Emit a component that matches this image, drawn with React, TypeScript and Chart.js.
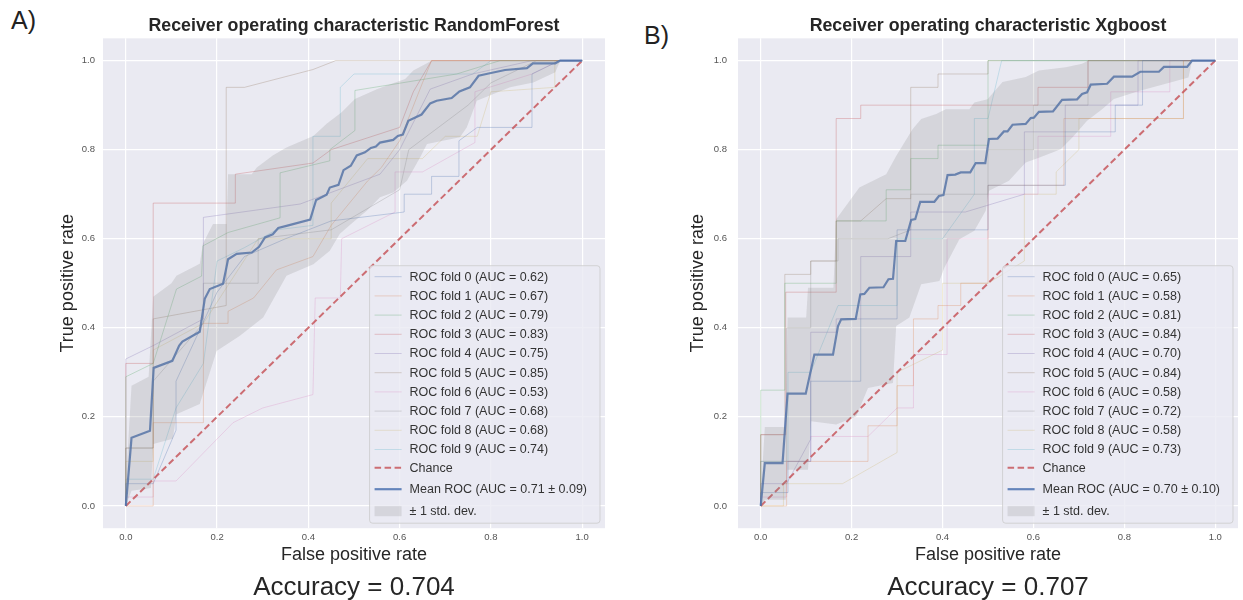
import React, { useEffect, useRef } from "react";
import { Chart, registerables } from "chart.js";

Chart.register(...registerables);

const FONT = "'Liberation Sans', Arial, sans-serif";

// ---------- shared ----------
const TICKS = [0, 0.2, 0.4, 0.6, 0.8, 1.0];
const AXIS_MIN = -0.05;
const AXIS_MAX = 1.05;
const X_LABEL = "False positive rate";
const Y_LABEL = "True positive rate";
const FOLD_COLORS = ["#4C72B0", "#DD8452", "#55A868", "#C44E52", "#8172B3", "#937860", "#DA8BC3", "#8C8C8C", "#CCB974", "#64B5CD"];
const CHANCE = [[0, 0], [1, 1]];

// ---------- A) RandomForest ----------
const RF_PANEL = "A)";
const RF_TITLE = "Receiver operating characteristic RandomForest";
const RF_ACCURACY = "Accuracy = 0.704";
const RF_FOLD_AUC = [0.62, 0.67, 0.79, 0.83, 0.75, 0.85, 0.53, 0.68, 0.68, 0.74];
const RF_MEAN_AUC = 0.71;
const RF_STD_AUC = 0.09;
const RF_MEAN = [[0, 0], [0.0125, 0.153], [0.053, 0.169], [0.061, 0.31], [0.102, 0.326], [0.117, 0.36], [0.124, 0.369], [0.162, 0.391], [0.173, 0.465], [0.184, 0.487], [0.213, 0.499], [0.219, 0.528], [0.224, 0.554], [0.243, 0.566], [0.276, 0.569], [0.292, 0.582], [0.305, 0.603], [0.322, 0.61], [0.334, 0.624], [0.352, 0.629], [0.404, 0.643], [0.417, 0.687], [0.44, 0.699], [0.447, 0.715], [0.466, 0.721], [0.477, 0.754], [0.493, 0.764], [0.506, 0.787], [0.524, 0.794], [0.537, 0.804], [0.548, 0.807], [0.557, 0.816], [0.586, 0.822], [0.596, 0.831], [0.607, 0.834], [0.619, 0.865], [0.648, 0.879], [0.667, 0.904], [0.681, 0.91], [0.714, 0.916], [0.731, 0.931], [0.754, 0.94], [0.773, 0.966], [0.795, 0.971], [0.831, 0.979], [0.879, 0.983], [0.892, 0.994], [0.941, 0.994], [0.952, 1], [1, 1]];
const RF_UPPER = [[0, 0.05], [0.0125, 0.27], [0.05, 0.29], [0.06, 0.47], [0.1, 0.5], [0.111, 0.517], [0.162, 0.544], [0.169, 0.589], [0.191, 0.633], [0.221, 0.633], [0.224, 0.745], [0.276, 0.745], [0.287, 0.76], [0.322, 0.787], [0.352, 0.805], [0.411, 0.831], [0.44, 0.858], [0.473, 0.884], [0.502, 0.914], [0.55, 0.936], [0.572, 0.944], [0.612, 0.959], [0.63, 0.978], [0.67, 1], [1, 1]];
const RF_LOWER = [[0, 0], [0.0125, 0.034], [0.055, 0.04], [0.06, 0.139], [0.103, 0.151], [0.111, 0.206], [0.162, 0.229], [0.199, 0.348], [0.25, 0.382], [0.301, 0.423], [0.352, 0.517], [0.411, 0.543], [0.447, 0.573], [0.469, 0.611], [0.498, 0.637], [0.528, 0.663], [0.557, 0.693], [0.586, 0.704], [0.616, 0.73], [0.645, 0.783], [0.66, 0.813], [0.732, 0.828], [0.747, 0.85], [0.769, 0.91], [0.842, 0.94], [0.893, 0.951], [0.941, 0.974], [0.952, 1], [1, 1]];
const RF_FOLD_0 = [[0, 0], [0, 0.05], [0.06, 0.05], [0.11, 0.17], [0.11, 0.28], [0.2, 0.48], [0.26, 0.56], [0.35, 0.6], [0.45, 0.64], [0.61, 0.66], [0.61, 0.7], [0.67, 0.7], [0.67, 0.74], [0.73, 0.74], [0.73, 0.82], [0.77, 0.85], [0.89, 0.85], [0.89, 0.97], [0.95, 1], [1, 1]];
const RF_FOLD_1 = [[0, 0], [0.06, 0], [0.06, 0.187], [0.17, 0.187], [0.17, 0.41], [0.224, 0.41], [0.224, 0.437], [0.28, 0.467], [0.33, 0.53], [0.41, 0.56], [0.45, 0.63], [0.53, 0.73], [0.56, 0.76], [0.6, 0.82], [0.65, 0.95], [0.67, 1], [1, 1]];
const RF_FOLD_2 = [[0, 0], [0, 0.29], [0.06, 0.32], [0.111, 0.487], [0.166, 0.516], [0.169, 0.584], [0.224, 0.614], [0.338, 0.647], [0.338, 0.748], [0.447, 0.775], [0.447, 0.8], [0.502, 0.843], [0.502, 0.933], [0.725, 0.97], [0.82, 1], [1, 1]];
const RF_FOLD_3 = [[0, 0], [0, 0.32], [0.06, 0.32], [0.06, 0.68], [0.24, 0.68], [0.24, 0.745], [0.41, 0.77], [0.45, 0.8], [0.6, 0.85], [0.63, 0.93], [0.67, 1], [1, 1]];
const RF_FOLD_4 = [[0, 0], [0, 0.33], [0.06, 0.36], [0.17, 0.42], [0.17, 0.648], [0.382, 0.678], [0.557, 0.745], [0.6, 0.8], [0.667, 0.936], [0.76, 0.97], [0.89, 1], [1, 1]];
const RF_FOLD_5 = [[0, 0], [0, 0.13], [0.06, 0.13], [0.06, 0.42], [0.22, 0.45], [0.22, 0.94], [0.26, 0.94], [0.41, 0.98], [0.46, 1], [1, 1]];
const RF_FOLD_6 = [[0, 0], [0, 0.02], [0.06, 0.02], [0.06, 0.056], [0.11, 0.056], [0.235, 0.187], [0.3, 0.22], [0.41, 0.25], [0.415, 0.467], [0.47, 0.467], [0.473, 0.6], [0.59, 0.66], [0.59, 0.75], [0.65, 0.75], [0.765, 0.816], [0.765, 0.93], [0.89, 0.97], [0.95, 1], [1, 1]];
const RF_FOLD_7 = [[0, 0], [0, 0.13], [0.06, 0.13], [0.06, 0.28], [0.17, 0.41], [0.17, 0.5], [0.29, 0.5], [0.29, 0.6], [0.45, 0.62], [0.6, 0.71], [0.62, 0.8], [0.75, 0.9], [0.8, 0.95], [0.9, 1], [1, 1]];
const RF_FOLD_8 = [[0, 0], [0, 0.1], [0.06, 0.1], [0.06, 0.35], [0.17, 0.41], [0.29, 0.6], [0.45, 0.6], [0.45, 0.68], [0.53, 0.78], [0.65, 0.78], [0.7, 0.83], [0.77, 0.83], [0.8, 0.93], [0.94, 0.94], [0.94, 1], [1, 1]];
const RF_FOLD_9 = [[0, 0], [0, 0.06], [0.06, 0.06], [0.11, 0.22], [0.17, 0.32], [0.2, 0.55], [0.26, 0.58], [0.33, 0.62], [0.41, 0.63], [0.41, 0.83], [0.47, 0.83], [0.47, 0.94], [0.5, 0.97], [0.76, 0.97], [0.8, 1], [1, 1]];
const RF_FOLDS = [RF_FOLD_0, RF_FOLD_1, RF_FOLD_2, RF_FOLD_3, RF_FOLD_4, RF_FOLD_5, RF_FOLD_6, RF_FOLD_7, RF_FOLD_8, RF_FOLD_9];

// ---------- B) Xgboost ----------
const XG_PANEL = "B)";
const XG_TITLE = "Receiver operating characteristic Xgboost";
const XG_ACCURACY = "Accuracy = 0.707";
const XG_FOLD_AUC = [0.65, 0.58, 0.81, 0.84, 0.70, 0.84, 0.58, 0.72, 0.58, 0.73];
const XG_MEAN_AUC = 0.70;
const XG_STD_AUC = 0.10;
const XG_MEAN = [[0, 0], [0.009, 0.096], [0.048, 0.096], [0.059, 0.252], [0.099, 0.252], [0.118, 0.34], [0.159, 0.34], [0.17, 0.404], [0.177, 0.419], [0.209, 0.42], [0.219, 0.475], [0.228, 0.476], [0.239, 0.49], [0.27, 0.491], [0.281, 0.509], [0.291, 0.51], [0.298, 0.595], [0.318, 0.595], [0.331, 0.642], [0.34, 0.644], [0.351, 0.683], [0.382, 0.683], [0.392, 0.696], [0.402, 0.698], [0.411, 0.743], [0.428, 0.744], [0.44, 0.749], [0.461, 0.749], [0.473, 0.77], [0.494, 0.77], [0.502, 0.824], [0.521, 0.825], [0.535, 0.841], [0.543, 0.841], [0.554, 0.856], [0.583, 0.858], [0.594, 0.871], [0.601, 0.872], [0.612, 0.885], [0.643, 0.886], [0.663, 0.912], [0.696, 0.913], [0.707, 0.925], [0.718, 0.929], [0.726, 0.946], [0.762, 0.948], [0.777, 0.964], [0.817, 0.964], [0.835, 0.975], [0.876, 0.975], [0.887, 0.986], [0.938, 0.986], [0.949, 1], [1, 1]];
const XG_UPPER = [[0, 0.02], [0.009, 0.177], [0.055, 0.177], [0.059, 0.423], [0.1, 0.423], [0.104, 0.49], [0.16, 0.49], [0.166, 0.644], [0.217, 0.715], [0.276, 0.745], [0.298, 0.786], [0.334, 0.846], [0.353, 0.869], [0.386, 0.88], [0.407, 0.891], [0.459, 0.891], [0.47, 0.906], [0.499, 0.913], [0.532, 0.952], [0.583, 0.963], [0.612, 0.978], [0.671, 0.985], [0.707, 0.993], [0.72, 1], [1, 1]];
const XG_LOWER = [[0, 0], [0.009, 0.014], [0.055, 0.014], [0.059, 0.081], [0.104, 0.081], [0.111, 0.19], [0.166, 0.183], [0.21, 0.201], [0.236, 0.265], [0.291, 0.276], [0.298, 0.404], [0.327, 0.423], [0.353, 0.498], [0.393, 0.505], [0.404, 0.535], [0.437, 0.599], [0.47, 0.618], [0.495, 0.663], [0.502, 0.708], [0.546, 0.73], [0.583, 0.771], [0.612, 0.782], [0.66, 0.801], [0.685, 0.827], [0.718, 0.865], [0.751, 0.891], [0.777, 0.914], [0.832, 0.932], [0.887, 0.947], [0.941, 0.962], [0.949, 1], [1, 1]];
const XG_FOLD_0 = [[0, 0], [0, 0.03], [0.06, 0.03], [0.06, 0.1], [0.11, 0.1], [0.11, 0.28], [0.22, 0.28], [0.22, 0.42], [0.3, 0.42], [0.3, 0.62], [0.5, 0.62], [0.5, 0.72], [0.67, 0.72], [0.67, 0.84], [0.78, 0.84], [0.78, 0.9], [0.84, 0.9], [0.84, 1], [1, 1]];
const XG_FOLD_1 = [[0, 0], [0.057, 0], [0.057, 0.1], [0.236, 0.1], [0.236, 0.18], [0.3, 0.18], [0.3, 0.27], [0.336, 0.27], [0.336, 0.42], [0.39, 0.42], [0.39, 0.45], [0.44, 0.45], [0.44, 0.5], [0.5, 0.5], [0.5, 0.72], [0.667, 0.72], [0.667, 0.87], [0.93, 0.87], [0.93, 1], [1, 1]];
const XG_FOLD_2 = [[0, 0], [0, 0.26], [0.053, 0.26], [0.053, 0.5], [0.166, 0.5], [0.166, 0.64], [0.276, 0.64], [0.276, 0.71], [0.33, 0.71], [0.33, 0.78], [0.39, 0.78], [0.39, 0.81], [0.5, 0.81], [0.5, 1], [1, 1]];
const XG_FOLD_3 = [[0, 0], [0, 0.16], [0.055, 0.16], [0.055, 0.48], [0.166, 0.48], [0.166, 0.87], [0.22, 0.87], [0.22, 0.9], [0.61, 0.9], [0.61, 0.94], [0.72, 0.94], [0.72, 1], [1, 1]];
const XG_FOLD_4 = [[0, 0], [0, 0.05], [0.057, 0.05], [0.11, 0.15], [0.11, 0.39], [0.166, 0.39], [0.166, 0.42], [0.22, 0.42], [0.22, 0.56], [0.33, 0.56], [0.33, 0.66], [0.45, 0.66], [0.58, 0.7], [0.58, 0.84], [0.67, 0.84], [0.67, 0.9], [0.83, 0.9], [0.83, 1], [1, 1]];
const XG_FOLD_5 = [[0, 0], [0, 0.16], [0.053, 0.16], [0.053, 0.52], [0.11, 0.52], [0.11, 0.55], [0.166, 0.55], [0.166, 0.64], [0.22, 0.64], [0.276, 0.69], [0.33, 0.69], [0.33, 0.94], [0.39, 0.94], [0.39, 0.97], [0.5, 0.97], [0.5, 1], [1, 1]];
const XG_FOLD_6 = [[0, 0], [0, 0.02], [0.057, 0.02], [0.057, 0.1], [0.11, 0.1], [0.11, 0.156], [0.236, 0.156], [0.3, 0.22], [0.336, 0.22], [0.336, 0.34], [0.41, 0.34], [0.41, 0.6], [0.5, 0.6], [0.5, 0.7], [0.61, 0.7], [0.61, 0.83], [0.77, 0.83], [0.77, 0.93], [0.9, 0.93], [0.9, 1], [1, 1]];
const XG_FOLD_7 = [[0, 0], [0, 0.1], [0.057, 0.1], [0.057, 0.4], [0.11, 0.4], [0.11, 0.55], [0.17, 0.55], [0.17, 0.6], [0.28, 0.6], [0.33, 0.62], [0.33, 0.7], [0.5, 0.7], [0.5, 0.8], [0.6, 0.8], [0.6, 0.9], [0.72, 0.9], [0.72, 1], [1, 1]];
const XG_FOLD_8 = [[0, 0], [0.05, 0], [0.05, 0.05], [0.18, 0.05], [0.3, 0.12], [0.3, 0.3], [0.4, 0.35], [0.4, 0.5], [0.5, 0.5], [0.58, 0.55], [0.58, 0.7], [0.65, 0.7], [0.65, 0.75], [0.7, 0.8], [0.7, 0.87], [0.93, 0.87], [0.93, 1], [1, 1]];
const XG_FOLD_9 = [[0, 0], [0, 0.1], [0.06, 0.1], [0.06, 0.3], [0.11, 0.3], [0.17, 0.45], [0.3, 0.45], [0.3, 0.6], [0.4, 0.6], [0.47, 0.7], [0.47, 0.87], [0.5, 0.87], [0.53, 1], [1, 1]];
const XG_FOLDS = [XG_FOLD_0, XG_FOLD_1, XG_FOLD_2, XG_FOLD_3, XG_FOLD_4, XG_FOLD_5, XG_FOLD_6, XG_FOLD_7, XG_FOLD_8, XG_FOLD_9];

// ---------- helpers ----------
function hexToRgba(hex: string, a: number) {
  const n = parseInt(hex.slice(1), 16);
  return `rgba(${(n >> 16) & 255},${(n >> 8) & 255},${n & 255},${a})`;
}
const MEAN_COLOR = hexToRgba("#4C72B0", 0.85);
const CHANCE_COLOR = hexToRgba("#C44E52", 0.8);
const BAND_COLOR = "rgba(128,128,128,0.2)";
const toXY = (pts: number[][]) => pts.map(([x, y]) => ({ x, y }));

const plotBackground = {
  id: "plotBackground",
  beforeDraw(chart: any) {
    const { ctx, chartArea } = chart;
    ctx.save();
    ctx.fillStyle = "#EAEAF2";
    ctx.fillRect(chartArea.left, chartArea.top, chartArea.right - chartArea.left, chartArea.bottom - chartArea.top);
    ctx.restore();
  },
};

const insideLegend = {
  id: "insideLegend",
  afterDraw(chart: any, _args: any, opts: any) {
    const { ctx, chartArea } = chart;
    const items = opts.items || [];
    const fs = opts.fontSize || 12.5;
    ctx.save();
    ctx.font = `${fs}px ${FONT}`;
    const maxW = Math.max(...items.map((it: any) => ctx.measureText(it.text).width));
    const boxW = 40 + maxW + 13;
    const boxH = 257.5;
    const right = chartArea.right - 5;
    const bottom = chartArea.bottom - 5;
    const left = right - boxW;
    const top = bottom - boxH;
    ctx.beginPath();
    if (ctx.roundRect) ctx.roundRect(left, top, boxW, boxH, 3);
    else ctx.rect(left, top, boxW, boxH);
    ctx.fillStyle = "rgba(234,234,242,0.8)";
    ctx.fill();
    ctx.strokeStyle = "rgba(204,204,204,0.8)";
    ctx.lineWidth = 1;
    ctx.stroke();
    const rowY = (i: number) => {
      if (i < 10) return top + 11 + 19.2 * i;
      if (i === 10) return top + 202;
      if (i === 11) return top + 223.5;
      return top + 245.5;
    };
    items.forEach((it: any, i: number) => {
      const y = rowY(i);
      const x0 = left + 5;
      const x1 = left + 32;
      if (it.kind === "patch") {
        ctx.fillStyle = it.color;
        ctx.fillRect(x0, y - 5, x1 - x0, 10);
      } else {
        ctx.beginPath();
        ctx.setLineDash(it.dash || []);
        ctx.strokeStyle = it.color;
        ctx.lineWidth = it.width;
        ctx.moveTo(x0, y);
        ctx.lineTo(x1, y);
        ctx.stroke();
        ctx.setLineDash([]);
      }
      ctx.fillStyle = "#333333";
      ctx.textBaseline = "middle";
      ctx.textAlign = "left";
      ctx.fillText(it.text, left + 40, y + 0.5);
    });
    ctx.restore();
  },
};

type PanelProps = {
  title: string;
  accuracy: string;
  foldAuc: number[];
  folds: number[][][];
  mean: number[][];
  upper: number[][];
  lower: number[][];
  meanAuc: number;
  stdAuc: number;
  left: number;
  width: number;
  padLeft: number;
  padRight: number;
  yWidth: number;
  yTickPad: number;
};

function RocPanel(p: PanelProps) {
  const ref = useRef<HTMLCanvasElement>(null);
  useEffect(() => {
    if (!ref.current) return;
    const foldLabels = p.foldAuc.map((a, i) => `ROC fold ${i} (AUC = ${a.toFixed(2)})`);
    const meanLabel = `Mean ROC (AUC = ${p.meanAuc.toFixed(2)} \u00b1 ${p.stdAuc.toFixed(2)})`;
    const stdLabel = "\u00b1 1 std. dev.";
    const datasets: any[] = [
      { label: stdLabel, data: toXY(p.upper), borderWidth: 0, borderColor: "rgba(0,0,0,0)", backgroundColor: BAND_COLOR, fill: "+1", pointRadius: 0, tension: 0 },
      { label: "lower", data: toXY(p.lower), borderWidth: 0, borderColor: "rgba(0,0,0,0)", fill: false, pointRadius: 0, tension: 0 },
      { label: meanLabel, data: toXY(p.mean), borderColor: MEAN_COLOR, borderWidth: 2.2, fill: false, pointRadius: 0, tension: 0 },
      { label: "Chance", data: toXY(CHANCE), borderColor: CHANCE_COLOR, borderWidth: 2, borderDash: [6.5, 3.5], fill: false, pointRadius: 0, tension: 0 },
      ...p.folds.map((f, i) => ({
        label: foldLabels[i], data: toXY(f), borderColor: hexToRgba(FOLD_COLORS[i], 0.3), borderWidth: 1, fill: false, pointRadius: 0, tension: 0,
      })),
    ];
    const legendItems = [
      ...foldLabels.map((t, i) => ({ kind: "line", text: t, color: hexToRgba(FOLD_COLORS[i], 0.3), width: 1 })),
      { kind: "line", text: "Chance", color: CHANCE_COLOR, width: 2, dash: [6.5, 3.5] },
      { kind: "line", text: meanLabel, color: MEAN_COLOR, width: 2.2 },
      { kind: "patch", text: stdLabel, color: BAND_COLOR },
    ];
    const tickFont = { family: FONT, size: 9.5 };
    const axisBase = {
      type: "linear" as const,
      min: AXIS_MIN,
      max: AXIS_MAX,
      afterBuildTicks: (scale: any) => {
        scale.ticks = TICKS.map((v) => ({ value: v }));
      },
      grid: { color: "#ffffff", lineWidth: 1.2, drawTicks: false },
      border: { display: false },
    };
    const chart = new Chart(ref.current, {
      type: "line",
      data: { datasets },
      options: {
        animation: false,
        responsive: false,
        parsing: false as any,
        normalized: true,
        layout: { padding: { left: p.padLeft, right: p.padRight, top: 0, bottom: 0 } },
        plugins: {
          legend: { display: false },
          tooltip: { enabled: false },
          title: {
            display: true,
            text: p.title,
            fullSize: false,
            color: "#262626",
            font: { family: FONT, size: 17.8, weight: "bold", lineHeight: 1.2 },
            padding: { top: 15.5, bottom: 1.5 },
          },
          subtitle: {
            display: true,
            text: p.accuracy,
            position: "bottom",
            fullSize: false,
            color: "#262626",
            font: { family: FONT, size: 26, lineHeight: 0.9 },
            padding: { top: 12.4, bottom: 0 },
          },
          insideLegend: { items: legendItems, fontSize: 12.5 },
        } as any,
        scales: {
          x: {
            ...axisBase,
            ticks: { font: tickFont, color: "#555555", padding: 3.3, maxRotation: 0, autoSkip: false, callback: (v: any) => Number(v).toFixed(1) },
            title: { display: true, text: X_LABEL, color: "#262626", font: { family: FONT, size: 18, lineHeight: 1.0 }, padding: { top: 0, bottom: 0 } },
          },
          y: {
            ...axisBase,
            afterFit: (scale: any) => {
              scale.width = p.yWidth;
            },
            ticks: { font: tickFont, color: "#555555", padding: p.yTickPad, autoSkip: false, callback: (v: any) => Number(v).toFixed(1) },
            title: { display: true, text: Y_LABEL, color: "#262626", font: { family: FONT, size: 18, lineHeight: 1.2 }, padding: { top: 0, bottom: 0 } },
          },
        } as any,
      },
      plugins: [plotBackground, insideLegend],
    });
    return () => chart.destroy();
  }, []);
  return (
    <canvas
      ref={ref}
      width={p.width}
      height={600}
      style={{ position: "absolute", left: p.left, top: 0, width: p.width, height: 600 }}
    />
  );
}

export default function App() {
  const panelLabel: React.CSSProperties = {
    position: "absolute",
    fontFamily: FONT,
    fontSize: 25,
    color: "#222",
    lineHeight: 1,
  };
  return (
    <div style={{ position: "absolute", left: 0, top: 0, width: 1243, height: 600, overflow: "hidden", background: "#fff" }}>
      <div style={{ ...panelLabel, left: 11, top: 8 }}>{RF_PANEL}</div>
      <div style={{ ...panelLabel, left: 644, top: 23 }}>{XG_PANEL}</div>
      <RocPanel
        title={RF_TITLE}
        accuracy={RF_ACCURACY}
        foldAuc={RF_FOLD_AUC}
        folds={RF_FOLDS}
        mean={RF_MEAN}
        upper={RF_UPPER}
        lower={RF_LOWER}
        meanAuc={RF_MEAN_AUC}
        stdAuc={RF_STD_AUC}
        left={40}
        width={585}
        padLeft={17.2}
        padRight={20}
        yWidth={45.8}
        yTickPad={8}
      />
      <RocPanel
        title={XG_TITLE}
        accuracy={XG_ACCURACY}
        foldAuc={XG_FOLD_AUC}
        folds={XG_FOLDS}
        mean={XG_MEAN}
        upper={XG_UPPER}
        lower={XG_LOWER}
        meanAuc={XG_MEAN_AUC}
        stdAuc={XG_STD_AUC}
        left={675}
        width={568}
        padLeft={12.2}
        padRight={5}
        yWidth={50.8}
        yTickPad={11}
      />
    </div>
  );
}
